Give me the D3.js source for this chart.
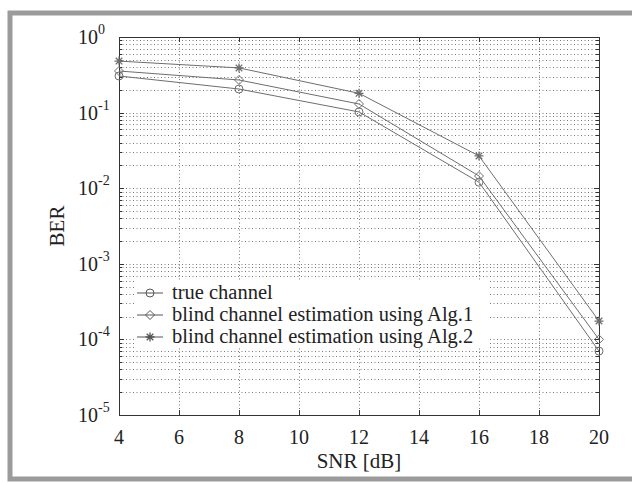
<!DOCTYPE html>
<html>
<head>
<meta charset="utf-8">
<script src="https://cdn.jsdelivr.net/npm/d3@7"></script>
<style>
  body { margin: 0; background: #fff; }
  text { font-family: "Liberation Serif", "DejaVu Serif", serif; fill: #222; }
</style>
</head>
<body>
<script>
// data
var snr = [4, 8, 12, 16, 20];
var berTrue = [0.305, 0.205, 0.102, 0.012, 0.00007];
var berAlg1 = [0.355, 0.27, 0.13, 0.0145, 0.0001];
var berAlg2 = [0.48, 0.39, 0.18, 0.0267, 0.000175];
var seriesNames = ["true channel", "blind channel estimation using Alg.1", "blind channel estimation using Alg.2"];
var xTicks = [4, 6, 8, 10, 12, 14, 16, 18, 20];
var yExponents = [0, -1, -2, -3, -4, -5];

var W = 632, H = 482;
var plot = {left: 119, top: 37, right: 599, bottom: 415};

var svg = d3.select("body").append("svg")
    .attr("width", W).attr("height", H);

// grey frame round the figure (open on the right)
svg.append("rect")
    .attr("x", 10).attr("y", 13)
    .attr("width", 640).attr("height", 466)
    .attr("fill", "none")
    .attr("stroke", "#9b9b9b")
    .attr("stroke-width", 5);

var x = d3.scaleLinear().domain([4, 20]).range([plot.left, plot.right]);
var y = d3.scaleLog().domain([1e-5, 1]).range([plot.bottom, plot.top]);

// minor values for log grid
var minorVals = [];
yExponents.forEach(function (e) {
    if (e == 0) return;
    for (var k = 2; k <= 9; k++) minorVals.push(k * Math.pow(10, e));
});
var majorVals = yExponents.map(function (e) { return Math.pow(10, e); });

var grid = svg.append("g").attr("stroke", "#555").attr("stroke-width", 0.8)
    .attr("stroke-dasharray", "1,2.5");

// horizontal dotted grid
grid.selectAll("line.hg").data(minorVals.concat(majorVals.slice(1, 5))).enter()
    .append("line")
    .attr("x1", plot.left).attr("x2", plot.right)
    .attr("y1", function (d) { return Math.round(y(d)) + 0.5; })
    .attr("y2", function (d) { return Math.round(y(d)) + 0.5; });

// vertical dotted grid
grid.selectAll("line.vg").data(xTicks.slice(1, -1)).enter()
    .append("line")
    .attr("y1", plot.top).attr("y2", plot.bottom)
    .attr("x1", function (d) { return Math.round(x(d)) + 0.5; })
    .attr("x2", function (d) { return Math.round(x(d)) + 0.5; });

// axes: inward ticks on all four sides
var axisG = svg.append("g").attr("stroke", "#333").attr("stroke-width", 1);
xTicks.forEach(function (t) {
    var px = Math.round(x(t)) + 0.5;
    axisG.append("line").attr("x1", px).attr("x2", px).attr("y1", plot.bottom).attr("y2", plot.bottom - 5);
    axisG.append("line").attr("x1", px).attr("x2", px).attr("y1", plot.top).attr("y2", plot.top + 5);
});
majorVals.forEach(function (v) {
    var py = Math.round(y(v)) + 0.5;
    axisG.append("line").attr("x1", plot.left).attr("x2", plot.left + 5).attr("y1", py).attr("y2", py);
    axisG.append("line").attr("x1", plot.right).attr("x2", plot.right - 5).attr("y1", py).attr("y2", py);
});
minorVals.forEach(function (v) {
    var py = Math.round(y(v)) + 0.5;
    axisG.append("line").attr("x1", plot.left).attr("x2", plot.left + 3).attr("y1", py).attr("y2", py);
    axisG.append("line").attr("x1", plot.right).attr("x2", plot.right - 3).attr("y1", py).attr("y2", py);
});
axisG.append("rect")
    .attr("x", plot.left + 0.5).attr("y", plot.top + 0.5)
    .attr("width", plot.right - plot.left).attr("height", plot.bottom - plot.top)
    .attr("fill", "none");

// tick labels
svg.selectAll("text.xt").data(xTicks).enter().append("text")
    .attr("x", function (d) { return x(d); })
    .attr("y", 444)
    .attr("text-anchor", "middle")
    .attr("font-size", 20)
    .text(function (d) { return d; });

var yl = svg.selectAll("text.yt").data(yExponents).enter().append("text")
    .attr("y", function (d) { return y(Math.pow(10, d)) + 7; })
    .attr("font-size", 20);
yl.append("tspan").text("10");
yl.append("tspan")
    .attr("font-size", 14)
    .attr("dy", -10)
    .text(function (d) { return d; });
// "10" ends at x=98, exponent follows
yl.each(function () {
    var t = d3.select(this);
    var w10 = t.select("tspan").node().getComputedTextLength();
    t.attr("x", 98 - w10);
});

// axis titles
svg.append("text")
    .attr("x", (plot.left + plot.right) / 2).attr("y", 468)
    .attr("text-anchor", "middle").attr("font-size", 21)
    .text("SNR [dB]");
svg.append("text")
    .attr("transform", "translate(64," + ((plot.top + plot.bottom) / 2) + ") rotate(-90)")
    .attr("text-anchor", "middle").attr("font-size", 21)
    .text("BER");

// markers
function drawMarker(g, kind, cx, cy) {
    if (kind == "circle") {
        g.append("circle").attr("cx", cx).attr("cy", cy).attr("r", 4)
            .attr("fill", "none");
    } else if (kind == "diamond") {
        var s = 4.5;
        g.append("path")
            .attr("d", "M" + cx + "," + (cy - s) + "L" + (cx + s) + "," + cy + "L" + cx + "," + (cy + s) + "L" + (cx - s) + "," + cy + "Z")
            .attr("fill", "none");
    } else {
        var s = 4.5, d = 3.3;
        g.append("path")
            .attr("d", "M" + (cx - s) + "," + cy + "L" + (cx + s) + "," + cy +
                "M" + cx + "," + (cy - s) + "L" + cx + "," + (cy + s) +
                "M" + (cx - d) + "," + (cy - d) + "L" + (cx + d) + "," + (cy + d) +
                "M" + (cx - d) + "," + (cy + d) + "L" + (cx + d) + "," + (cy - d))
            .attr("stroke-width", 1.3);
    }
}

var series = [
    {values: berTrue, marker: "circle"},
    {values: berAlg1, marker: "diamond"},
    {values: berAlg2, marker: "star"}
];

var line = d3.line()
    .x(function (d, i) { return x(snr[i]); })
    .y(function (d) { return y(d); });

var dataG = svg.append("g").attr("stroke", "#6e6e6e").attr("stroke-width", 1);
series.forEach(function (s) {
    dataG.append("path").attr("d", line(s.values)).attr("fill", "none");
    s.values.forEach(function (v, i) {
        drawMarker(dataG, s.marker, x(snr[i]), y(v));
    });
});

// legend (white box, no border)
var lg = svg.append("g");
lg.append("rect").attr("x", 134).attr("y", 281).attr("width", 354).attr("height", 67)
    .attr("fill", "#fff");
series.forEach(function (s, i) {
    var ly = 293 + i * 22;
    var g = lg.append("g").attr("stroke", "#555").attr("stroke-width", 1);
    g.append("line").attr("x1", 137).attr("x2", 163).attr("y1", ly).attr("y2", ly);
    drawMarker(g, s.marker, 150, ly);
    lg.append("text").attr("x", 172).attr("y", ly + 6)
        .attr("font-size", 20.5)
        .text(seriesNames[i]);
});
</script>
</body>
</html>
